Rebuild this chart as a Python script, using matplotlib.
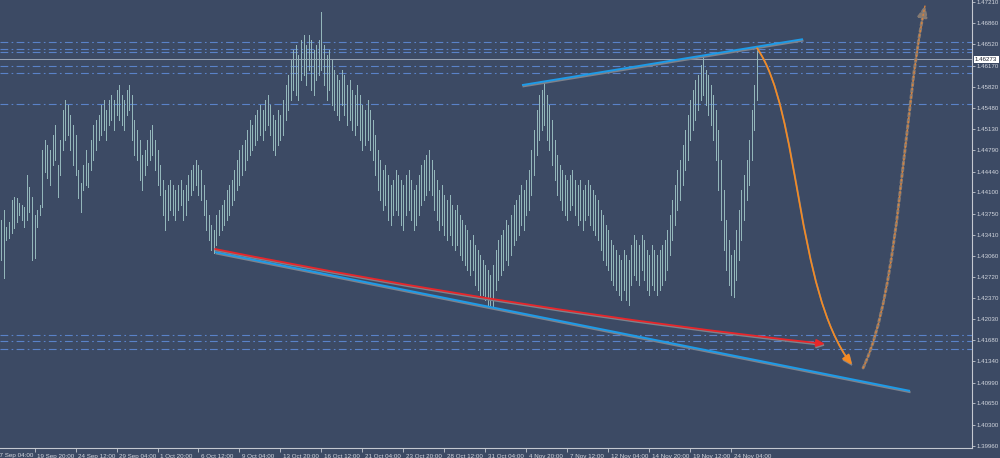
import matplotlib
matplotlib.use('Agg')
import matplotlib.pyplot as plt
import matplotlib.patheffects as pe
import matplotlib.transforms as mtransforms
from matplotlib.path import Path
from matplotlib.patches import FancyArrowPatch
import numpy as np

# H4 bars
highs = [1.4365, 1.4381, 1.4354, 1.4362, 1.4397, 1.4403, 1.4401, 1.4392, 1.4389, 1.4386,
         1.4438, 1.4419, 1.4403, 1.4373, 1.4381, 1.4389, 1.4479, 1.4495, 1.4487, 1.4479,
         1.4504, 1.4520, 1.4455, 1.4495, 1.4544, 1.4561, 1.4553, 1.4536, 1.4520, 1.4504,
         1.4446, 1.4425, 1.4455, 1.4479, 1.4458, 1.4495, 1.4520, 1.4528, 1.4536, 1.4553,
         1.4561, 1.4544, 1.4561, 1.4569, 1.4561, 1.4577, 1.4585, 1.4569, 1.4561, 1.4577,
         1.4585, 1.4569, 1.4528, 1.4512, 1.4495, 1.4471, 1.4479, 1.4495, 1.4512, 1.4520,
         1.4495, 1.4479, 1.4455, 1.4430, 1.4414, 1.4422, 1.4430, 1.4422, 1.4414, 1.4422,
         1.4430, 1.4414, 1.4422, 1.4438, 1.4446, 1.4455, 1.4463, 1.4455, 1.4446, 1.4422,
         1.4397, 1.4373, 1.4357, 1.4348, 1.4373, 1.4381, 1.4389, 1.4397, 1.4414, 1.4422,
         1.4430, 1.4446, 1.4463, 1.4479, 1.4487, 1.4495, 1.4512, 1.4528, 1.4520, 1.4536,
         1.4544, 1.4553, 1.4544, 1.4561, 1.4569, 1.4553, 1.4536, 1.4528, 1.4544, 1.4536,
         1.4561, 1.4585, 1.4602, 1.4626, 1.4642, 1.4651, 1.4634, 1.4659, 1.4667, 1.4651,
         1.4667, 1.4659, 1.4642, 1.4651, 1.4659, 1.4705, 1.4651, 1.4634, 1.4642, 1.4626,
         1.4610, 1.4602, 1.4593, 1.4610, 1.4602, 1.4585, 1.4593, 1.4577, 1.4569, 1.4585,
         1.4569, 1.4553, 1.4544, 1.4561, 1.4544, 1.4528, 1.4504, 1.4479, 1.4463, 1.4446,
         1.4455, 1.4438, 1.4422, 1.4430, 1.4446, 1.4438, 1.4430, 1.4422, 1.4438, 1.4446,
         1.4430, 1.4414, 1.4422, 1.4438, 1.4455, 1.4463, 1.4471, 1.4479, 1.4463, 1.4446,
         1.4430, 1.4414, 1.4422, 1.4406, 1.4397, 1.4406, 1.4389, 1.4381, 1.4389, 1.4373,
         1.4365, 1.4357, 1.4348, 1.4332, 1.4340, 1.4324, 1.4316, 1.4308, 1.4300, 1.4291,
         1.4283, 1.4275, 1.4291, 1.4316, 1.4332, 1.4340, 1.4348, 1.4365, 1.4357, 1.4373,
         1.4389, 1.4397, 1.4406, 1.4422, 1.4414, 1.4430, 1.4446, 1.4479, 1.4512, 1.4544,
         1.4569, 1.4577, 1.4590, 1.4569, 1.4553, 1.4528, 1.4495, 1.4471, 1.4455, 1.4446,
         1.4438, 1.4430, 1.4438, 1.4446, 1.4430, 1.4422, 1.4430, 1.4414, 1.4422, 1.4430,
         1.4422, 1.4414, 1.4406, 1.4397, 1.4381, 1.4373, 1.4357, 1.4348, 1.4332, 1.4324,
         1.4316, 1.4308, 1.4300, 1.4316, 1.4308, 1.4300, 1.4324, 1.4340, 1.4332, 1.4324,
         1.4340, 1.4332, 1.4316, 1.4308, 1.4324, 1.4316, 1.4308, 1.4316, 1.4324, 1.4332,
         1.4348, 1.4373, 1.4397, 1.4422, 1.4446, 1.4463, 1.4487, 1.4512, 1.4536, 1.4561,
         1.4577, 1.4593, 1.4602, 1.4618, 1.4631, 1.4610, 1.4602, 1.4585, 1.4569, 1.4544,
         1.4512, 1.4463, 1.4414, 1.4365, 1.4332, 1.4308, 1.4316, 1.4348, 1.4381, 1.4414,
         1.4438, 1.4463, 1.4495, 1.4544, 1.4585, 1.4646]
lows = [1.4300, 1.4270, 1.4332, 1.4335, 1.4343, 1.4352, 1.4362, 1.4373, 1.4365, 1.4354,
        1.4365, 1.4378, 1.4300, 1.4303, 1.4354, 1.4373, 1.4386, 1.4443, 1.4433, 1.4422,
        1.4455, 1.4463, 1.4403, 1.4438, 1.4479, 1.4495, 1.4504, 1.4479, 1.4455, 1.4438,
        1.4401, 1.4378, 1.4414, 1.4422, 1.4419, 1.4446, 1.4463, 1.4479, 1.4495, 1.4504,
        1.4512, 1.4495, 1.4520, 1.4528, 1.4512, 1.4536, 1.4528, 1.4520, 1.4512, 1.4536,
        1.4544, 1.4495, 1.4471, 1.4463, 1.4430, 1.4414, 1.4438, 1.4455, 1.4463, 1.4471,
        1.4446, 1.4422, 1.4406, 1.4373, 1.4348, 1.4365, 1.4381, 1.4373, 1.4365, 1.4381,
        1.4389, 1.4365, 1.4373, 1.4397, 1.4406, 1.4414, 1.4422, 1.4406, 1.4397, 1.4373,
        1.4348, 1.4332, 1.4316, 1.4311, 1.4324, 1.4340, 1.4348, 1.4357, 1.4365, 1.4373,
        1.4389, 1.4397, 1.4414, 1.4422, 1.4438, 1.4446, 1.4463, 1.4471, 1.4479, 1.4487,
        1.4495, 1.4504, 1.4495, 1.4512, 1.4520, 1.4504, 1.4479, 1.4471, 1.4487, 1.4495,
        1.4504, 1.4528, 1.4544, 1.4561, 1.4577, 1.4569, 1.4561, 1.4593, 1.4602, 1.4585,
        1.4610, 1.4577, 1.4569, 1.4593, 1.4602, 1.4610, 1.4585, 1.4561, 1.4577, 1.4553,
        1.4544, 1.4536, 1.4528, 1.4553, 1.4536, 1.4520, 1.4528, 1.4512, 1.4504, 1.4520,
        1.4495, 1.4479, 1.4487, 1.4495, 1.4479, 1.4463, 1.4438, 1.4414, 1.4397, 1.4381,
        1.4389, 1.4365, 1.4357, 1.4373, 1.4381, 1.4373, 1.4357, 1.4348, 1.4373, 1.4381,
        1.4365, 1.4348, 1.4357, 1.4373, 1.4389, 1.4397, 1.4406, 1.4414, 1.4406, 1.4381,
        1.4365, 1.4348, 1.4357, 1.4340, 1.4332, 1.4340, 1.4324, 1.4316, 1.4324, 1.4308,
        1.4300, 1.4291, 1.4283, 1.4275, 1.4283, 1.4259, 1.4250, 1.4242, 1.4242, 1.4234,
        1.4226, 1.4226, 1.4224, 1.4250, 1.4267, 1.4275, 1.4283, 1.4300, 1.4291, 1.4308,
        1.4324, 1.4332, 1.4340, 1.4357, 1.4348, 1.4373, 1.4381, 1.4406, 1.4438, 1.4471,
        1.4495, 1.4512, 1.4520, 1.4495, 1.4479, 1.4455, 1.4430, 1.4406, 1.4397, 1.4381,
        1.4373, 1.4365, 1.4381, 1.4389, 1.4373, 1.4357, 1.4365, 1.4348, 1.4365, 1.4373,
        1.4357, 1.4348, 1.4340, 1.4332, 1.4316, 1.4300, 1.4291, 1.4283, 1.4267, 1.4259,
        1.4250, 1.4242, 1.4234, 1.4250, 1.4234, 1.4226, 1.4259, 1.4275, 1.4267, 1.4259,
        1.4283, 1.4267, 1.4250, 1.4242, 1.4259, 1.4250, 1.4242, 1.4250, 1.4259, 1.4267,
        1.4283, 1.4308, 1.4332, 1.4357, 1.4381, 1.4397, 1.4422, 1.4446, 1.4463, 1.4495,
        1.4512, 1.4528, 1.4544, 1.4561, 1.4569, 1.4553, 1.4536, 1.4520, 1.4495, 1.4463,
        1.4414, 1.4365, 1.4316, 1.4283, 1.4259, 1.4242, 1.4239, 1.4267, 1.4300, 1.4332,
        1.4365, 1.4397, 1.4422, 1.4463, 1.4512, 1.4561]

price_ticks = [1.39960, 1.40300, 1.40650, 1.40990, 1.41340, 1.41680, 1.42030, 1.42370,
               1.42720, 1.43060, 1.43410, 1.43750, 1.44100, 1.44440, 1.44790, 1.45130,
               1.45480, 1.45820, 1.46170, 1.46520, 1.46860, 1.47210]
date_ticks = [13, 29, 45, 61, 77, 93, 109, 125, 141, 157, 173, 189, 205, 221, 237, 253, 269, 285]
date_labels = ['19 Sep 20:00', '24 Sep 12:00', '29 Sep 04:00', '1 Oct 20:00', '6 Oct 12:00',
               '9 Oct 04:00', '13 Oct 20:00', '16 Oct 12:00', '21 Oct 04:00', '23 Oct 20:00',
               '28 Oct 12:00', '31 Oct 04:00', '4 Nov 20:00', '7 Nov 12:00', '12 Nov 04:00',
               '14 Nov 20:00', '19 Nov 12:00', '24 Nov 04:00']
first_label = '17 Sep 04:00'
first_label_pos = -3

last_price = 1.46273
levels = [1.46554, 1.46440, 1.46391, 1.46162, 1.46048, 1.45542, 1.41770, 1.41672, 1.41541]

# drawn objects: (bar index, price)
upper_line = [(203.3, 1.45852), (313.0, 1.46603)]
lower_line = [(83.45, 1.43125), (354.8, 1.40855)]
red_curve = [(83.45, 1.43174), (204.5, 1.42161), (321.6, 1.41622)]
orange_curve = [(295.1, 1.46456), (311.9, 1.45444), (309.9, 1.42504), (332.2, 1.41280)]
dotted_curve = [(336.5, 1.41231), (350.9, 1.42504), (352.1, 1.45444), (360.7, 1.47158)]

bg = '#3c4a64'
bar_col = '#93b6ba'
txt_col = '#d2d6de'
axis_col = '#c4c8d0'
fonts = ['Liberation Sans Narrow', 'Liberation Sans', 'DejaVu Sans']

fig = plt.figure(figsize=(10, 4.58), dpi=100, facecolor=bg)
ax = fig.add_axes([0, 10 / 458, 0.972, 448 / 458])
ax.set_facecolor(bg)
ax.set_xlim(-0.5, 379)
ax.set_ylim(1.39922, 1.47243)

for s in ['top', 'left']:
    ax.spines[s].set_visible(False)
for s in ['right', 'bottom']:
    ax.spines[s].set_color(axis_col)
    ax.spines[s].set_linewidth(0.8)

# levels
for lv in levels:
    ax.axhline(lv, color='#5a82c8', lw=0.8, ls=(0, (7, 3, 1.5, 3)), zorder=1)
ax.axhline(last_price, color='#98a2b2', lw=0.75, zorder=1)

# bars
x = np.arange(len(highs))
ax.vlines(x, lows, highs, colors=bar_col, linewidths=0.72, antialiased=False, zorder=2)

shadow = [pe.SimpleLineShadow(offset=(0.4, -1.0), shadow_color='#7d828c', alpha=1), pe.Normal()]

for line in [upper_line, lower_line]:
    xs, ys = zip(*line)
    ax.plot(xs, ys, color='#1d9be8', lw=1.4, solid_capstyle='butt', path_effects=shadow, zorder=4)

red_path = Path(red_curve, [Path.MOVETO, Path.CURVE3, Path.CURVE3])
ax.add_patch(FancyArrowPatch(path=red_path, arrowstyle='-|>,head_length=5,head_width=2.2',
                             color='#e8262a', lw=1.3, path_effects=shadow, zorder=5))

orange_path = Path(orange_curve, [Path.MOVETO, Path.CURVE4, Path.CURVE4, Path.CURVE4])
ax.add_patch(FancyArrowPatch(path=orange_path, arrowstyle='-|>,head_length=6,head_width=2.6',
                             color='#f58a22', lw=1.2, path_effects=shadow, zorder=5))

dotted_path = Path(dotted_curve, [Path.MOVETO, Path.CURVE4, Path.CURVE4, Path.CURVE4])
ax.add_patch(FancyArrowPatch(path=dotted_path, arrowstyle='-|>,head_length=6,head_width=2.6',
                             color='#857a72', lw=2.2, ls=(0, (1, 1)), zorder=5))
ax.add_patch(FancyArrowPatch(path=dotted_path, arrowstyle='-',
                             color='#d9823c', lw=1.0, ls=(0, (1, 2)), zorder=6))

# axes
ax.yaxis.tick_right()
ax.set_yticks(price_ticks)
ax.set_yticklabels([f'{v:.5f}' for v in price_ticks], family=fonts)
ax.tick_params(axis='y', colors=axis_col, labelcolor=txt_col, labelsize=4.4, length=2, width=0.6, pad=1)
ax.set_xticks(date_ticks)
ax.set_xticklabels(date_labels, family=fonts)
ax.tick_params(axis='x', colors=axis_col, labelcolor=txt_col, labelsize=4.5, length=3, width=0.6, pad=1)
shift = mtransforms.ScaledTranslation(2 / 72, 0, fig.dpi_scale_trans)
for lab in ax.get_xticklabels():
    lab.set_ha('left')
    lab.set_transform(lab.get_transform() + shift)
ax.text(first_label_pos, -0.012, first_label, transform=ax.get_xaxis_transform() + shift,
        ha='left', va='top', fontsize=4.5, color=txt_col, family=fonts, clip_on=False)

# current price box
ax.text(1.003, last_price, f'{last_price:.5f}', transform=ax.get_yaxis_transform(),
        ha='left', va='center', fontsize=4.4, color='#1c2230', family=fonts,
        bbox=dict(boxstyle='square,pad=0.2', fc='white', ec='none'), zorder=10, clip_on=False)

fig.savefig('out.png', dpi=100, facecolor=bg)
